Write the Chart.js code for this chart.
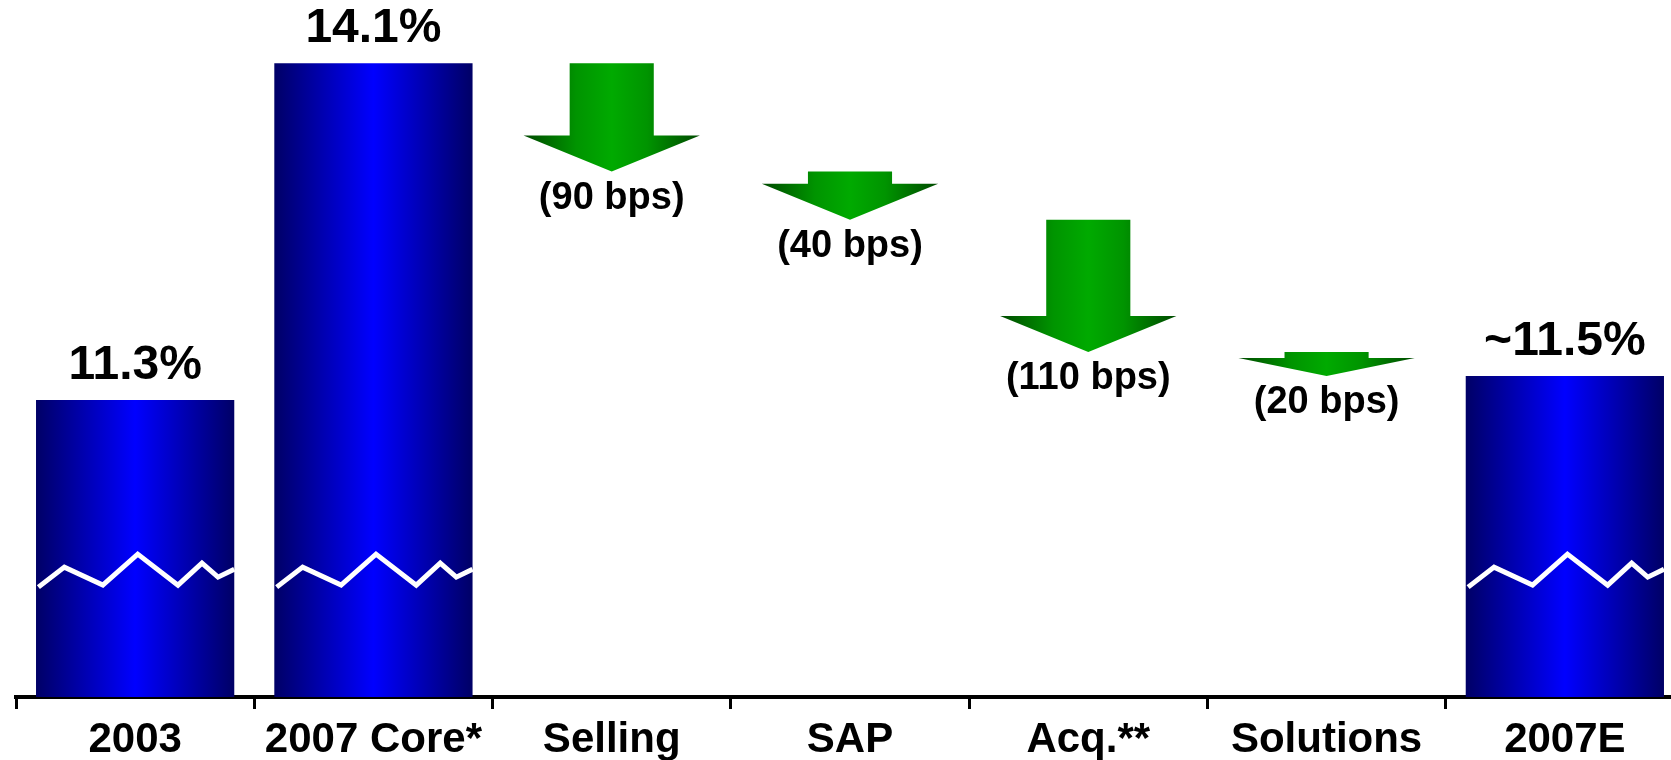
<!DOCTYPE html>
<html>
<head>
<meta charset="utf-8">
<script src="https://cdn.jsdelivr.net/npm/chart.js@4.4.0/dist/chart.umd.min.js"></script>
<style>
  html, body { margin: 0; padding: 0; background: #fff; overflow: hidden; width: 1671px; height: 760px; }
  canvas { display: block; }
</style>
</head>
<body>
<canvas id="margin" width="1684" height="772"></canvas>
<script>
// Operating margin bridge: 2003 -> 2007 core -> 2007E
const categories   = ['2003', '2007 Core*', 'Selling', 'SAP', 'Acq.**', 'Solutions', '2007E'];
const marginValues = [11.3, 14.1, null, null, null, null, 11.5];        // %
const marginLabels = ['11.3%', '14.1%', '', '', '', '', '~11.5%'];
const changeBps    = [null, null, -90, -40, -110, -20, null];          // basis points
const yMin = 8.83, yMax = 14.56;   // truncated axis (break marker drawn on the bars)
const breakLevel = 9.91;

const FONT = "'Liberation Sans', Arial, Helvetica, sans-serif";
const BAR_PCT = 0.832, ARROW_PCT = 0.74;

// floating ranges for the step changes, walking down from the previous total
const changeRanges = [];
let running = null;
categories.forEach((c, i) => {
  if (marginValues[i] != null) { running = marginValues[i]; changeRanges.push(null); }
  else {
    const next = +(running + changeBps[i] / 100).toFixed(2);
    changeRanges.push([next, running]);
    running = next;
  }
});

function blueGradient(ctx) {
  const chart = ctx.chart;
  if (!chart.chartArea || ctx.type !== 'data') return '#0000cc';
  const xs = chart.scales.x;
  const cx = xs.getPixelForValue(ctx.dataIndex);
  const half = (xs.width / categories.length) * BAR_PCT / 2;
  const g = chart.ctx.createLinearGradient(cx - half, 0, cx + half, 0);
  g.addColorStop(0, '#000066');
  g.addColorStop(0.5, '#0000ff');
  g.addColorStop(1, '#000066');
  return g;
}

// green down-arrows for each step change, plus their bps labels
const arrowPlugin = {
  id: 'arrows',
  afterDatasetsDraw(chart) {
    const ctx = chart.ctx;
    const meta = chart.getDatasetMeta(1);
    meta.data.forEach((bar, i) => {
      if (!changeRanges[i]) return;
      const p = bar.getProps(['x', 'y', 'base', 'width'], true);
      const top = Math.min(p.y, p.base), bottom = Math.max(p.y, p.base);
      const h = bottom - top;
      const headH = Math.min(36, h * 0.75);
      const hw = p.width / 2, sw = p.width * 0.2385;
      const g = ctx.createLinearGradient(p.x - hw, 0, p.x + hw, 0);
      g.addColorStop(0, '#004a00');
      g.addColorStop(0.3, '#009400');
      g.addColorStop(0.5, '#00aa00');
      g.addColorStop(0.7, '#009400');
      g.addColorStop(1, '#004a00');
      ctx.save();
      ctx.beginPath();
      ctx.moveTo(p.x - sw, top);
      ctx.lineTo(p.x + sw, top);
      ctx.lineTo(p.x + sw, bottom - headH);
      ctx.lineTo(p.x + hw, bottom - headH);
      ctx.lineTo(p.x, bottom);
      ctx.lineTo(p.x - hw, bottom - headH);
      ctx.lineTo(p.x - sw, bottom - headH);
      ctx.closePath();
      ctx.fillStyle = g;
      ctx.fill();
      ctx.fillStyle = '#000';
      ctx.font = `bold 38px ${FONT}`;
      ctx.textAlign = 'center';
      ctx.textBaseline = 'alphabetic';
      ctx.fillText(`(${Math.abs(changeBps[i])} bps)`, p.x, bottom + 37);
      ctx.restore();
    });
  }
};

// zig-zag axis-break marker and value labels on the total bars
const totalsPlugin = {
  id: 'totals',
  afterDatasetsDraw(chart) {
    const ctx = chart.ctx;
    const ys = chart.scales.y;
    const yb = ys.getPixelForValue(breakLevel);
    const zig = [[0.012, 20], [0.143, 0], [0.337, 18], [0.513, -13], [0.716, 18], [0.837, -4], [0.918, 10], [1.0, 2]];
    const meta = chart.getDatasetMeta(0);
    meta.data.forEach((bar, i) => {
      if (marginValues[i] == null) return;
      const p = bar.getProps(['x', 'y', 'width'], true);
      const left = p.x - p.width / 2;
      ctx.save();
      ctx.beginPath();
      zig.forEach(([fx, dy], k) => {
        const px = left + fx * p.width, py = yb + dy;
        k ? ctx.lineTo(px, py) : ctx.moveTo(px, py);
      });
      ctx.strokeStyle = '#fff';
      ctx.lineWidth = 5;
      ctx.lineJoin = 'miter';
      ctx.stroke();
      ctx.fillStyle = '#000';
      ctx.font = `bold 48px ${FONT}`;
      ctx.textAlign = 'center';
      ctx.textBaseline = 'alphabetic';
      ctx.fillText(marginLabels[i], p.x, p.y - 21);
      ctx.restore();
    });
  }
};

new Chart(document.getElementById('margin'), {
  type: 'bar',
  data: {
    labels: categories,
    datasets: [
      { label: 'Operating margin', data: marginValues, backgroundColor: blueGradient,
        barPercentage: BAR_PCT, categoryPercentage: 1, grouped: false, borderWidth: 0 },
      { label: 'Change', data: changeRanges, backgroundColor: 'rgba(0,0,0,0)',
        barPercentage: ARROW_PCT, categoryPercentage: 1, grouped: false, borderWidth: 0 }
    ]
  },
  options: {
    responsive: false,
    animation: false,
    events: [],
    layout: { padding: { left: 16, right: 0, top: 8, bottom: 1 } },
    plugins: { legend: { display: false }, tooltip: { enabled: false } },
    scales: {
      x: {
        z: 1,
        grid: { display: true, drawOnChartArea: false, drawTicks: true, tickLength: 12,
                color: '#000', lineWidth: 3, offset: true },
        border: { display: true, color: '#000', width: 4 },
        ticks: { color: '#000', padding: 10, maxRotation: 0, autoSkip: false,
                 font: { family: FONT, size: 42, weight: 'bold', lineHeight: 1 } }
      },
      y: { display: false, min: yMin, max: yMax }
    }
  },
  plugins: [arrowPlugin, totalsPlugin]
});
</script>
</body>
</html>
